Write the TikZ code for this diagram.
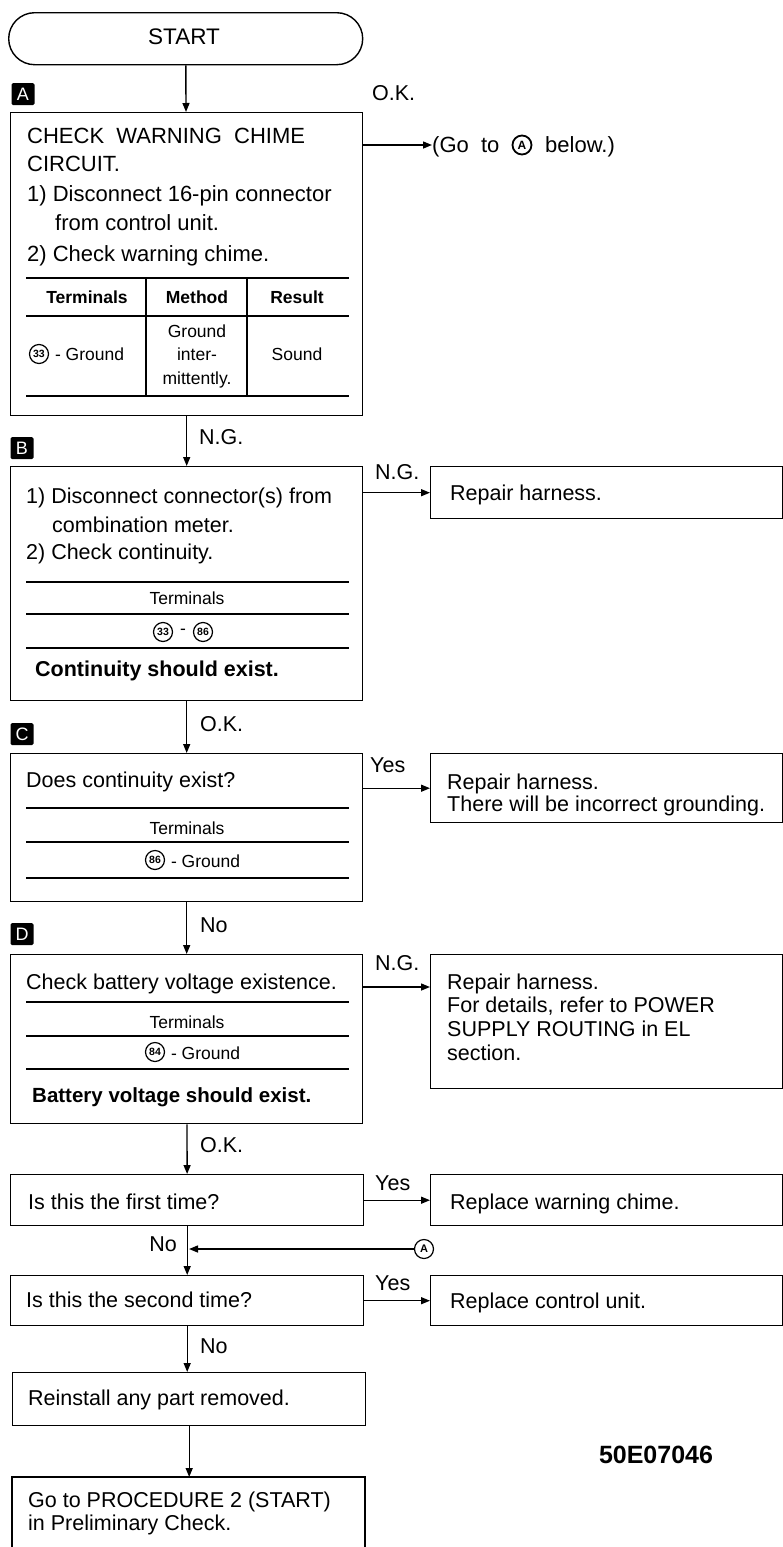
\documentclass[tikz,border=0pt]{standalone}
\usepackage{fontspec}
\setmainfont{Liberation Sans}
\usetikzlibrary{arrows.meta}
\newcommand\fmain{\fontsize{21.5}{24}\selectfont}
\newcommand\fbig{\fontsize{22}{25}\selectfont}
\newcommand\fsmall{\fontsize{17.5}{20}\selectfont}
\begin{document}
\begin{tikzpicture}[x=1pt,y=-1pt,
  box/.style={draw,line width=1.4pt,inner sep=0pt,anchor=north west},
  t/.style={anchor=base west,inner sep=0pt,font=\fmain},
  ta/.style={anchor=base west,inner sep=0pt,font=\fbig},
  tc/.style={anchor=base,inner sep=0pt,font=\fsmall},
  tb/.style={anchor=base west,inner sep=0pt,font=\fmain\bfseries},
  lab/.style={anchor=base west,inner sep=0pt,font=\fmain},
  tag/.style={fill=black,text=white,inner sep=0pt,minimum width=23pt,minimum height=22pt,rounded corners=1.5pt,font=\fontsize{18}{18}\selectfont},
  cn/.style={draw,circle,line width=1.2pt,inner sep=0pt,minimum size=19pt,font=\fontsize{10.5}{10.5}\selectfont\bfseries},
  thick rule/.style={line width=2.6pt},
  thin rule/.style={line width=1.3pt},
  arr/.style={line width=1.4pt,-{Triangle[length=9pt,width=7pt]}}]
\useasboundingbox (0,0) rectangle (783,1547);
% START
\node[draw,line width=1.4pt,rounded corners=26pt,minimum width=354pt,minimum height=52pt,anchor=north west,inner sep=0pt] (start) at (8,12) {};
\node[font=\fontsize{22.5}{22.5}\selectfont,inner sep=0pt] (startt) at (184,37) {START};
% A
\node[tag] (tA) at (23,94) {A};
\node[box,minimum width=352pt,minimum height=303pt] (A) at (10,112) {};
\draw[arr] (start) -- (A);
\node[ta] (a1) at (27,143) {CHECK\ \ WARNING\ \ CHIME};
\node[ta] (a2) at (27,171) {CIRCUIT.};
\node[ta] (a3) at (27,201) {1)\ Disconnect 16-pin connector};
\node[ta] (a4) at (55,230) {from control unit.};
\node[ta] (a5) at (27,261) {2)\ Check warning chime.};
\draw[thick rule] (26,278) -- (349,278);
\draw[thin rule] (26,316) -- (349,316);
\draw[thick rule] (26,396) -- (349,396);
\draw[thin rule] (146,278) -- (146,396);
\draw[thin rule] (247,278) -- (247,396);
\node[tc,font=\fsmall\bfseries] (ah1) at (87,303) {Terminals};
\node[tc,font=\fsmall\bfseries] (ah2) at (197,303) {Method};
\node[tc,font=\fsmall\bfseries] (ah3) at (297,303) {Result};
\node[cn] (ac1) at (39,354) {33};
\node[anchor=west,inner sep=0pt,font=\fsmall] (ac1t) at (50,354) {\ - Ground};
\node[tc] (am1) at (197,337) {Ground};
\node[tc] (am2) at (197,360) {inter-};
\node[tc] (am3) at (197,384) {mittently.};
\node[tc] (ar1) at (297,360) {Sound};
% O.K. go to A
\node[lab] (okA) at (372,100) {O.K.};
\node[anchor=base west,inner sep=0pt,font=\fbig] (goA1) at (432,152) {(Go\ \ to};
\node[draw,circle,line width=1.8pt,inner sep=0pt,minimum size=19pt,font=\fontsize{12}{12}\selectfont\bfseries] (goAc) at (522,145) {A};
\node[anchor=base west,inner sep=0pt,font=\fbig] (goA2) at (545,152) {below.)};
\coordinate (goAy) at (0,145);
\draw[arr] (A.east |- goAy) -- (goA1.west |- goAy);
% B
\node[tag] (tB) at (22,448) {B};
\node[box,minimum width=352pt,minimum height=234pt] (B) at (10,466) {};
\draw[arr] (A) -- (B);
\node[lab] (ngA) at (199,444) {N.G.};
\node[t] (b1) at (26,503) {1)\ Disconnect connector(s) from};
\node[t] (b2) at (52,532) {combination meter.};
\node[t] (b3) at (26,559) {2)\ Check continuity.};
\draw[thin rule] (26,582) -- (349,582);
\node[tc] (bh) at (187,604) {Terminals};
\draw[thin rule] (26,614) -- (349,614);
\node[cn] (bc1) at (163,632) {33};
\node[anchor=center,inner sep=0pt,font=\fsmall] (bcd) at (183,632) {-};
\node[cn] (bc2) at (203,632) {86};
\draw[thick rule] (26,648) -- (349,648);
\node[tb] (b4) at (35,676) {Continuity should exist.};
\node[box,minimum width=352pt,minimum height=52pt] (RB) at (430,466) {};
\node[t] (rb1) at (450,500) {Repair harness.};
\node[lab] (ngB) at (375,479) {N.G.};
\draw[arr] (B.east |- RB.west) -- (RB.west);
% C
\node[tag] (tC) at (22,734) {C};
\node[box,minimum width=352pt,minimum height=148pt] (C) at (10,753) {};
\draw[arr] (B) -- (C);
\node[lab] (okB) at (200,731) {O.K.};
\node[t] (c1) at (26,787) {Does continuity exist?};
\draw[thick rule] (26,808) -- (349,808);
\node[tc] (ch) at (187,834) {Terminals};
\draw[thin rule] (26,842) -- (349,842);
\node[cn] (cc1) at (155,860) {86};
\node[anchor=west,inner sep=0pt,font=\fsmall] (cc1t) at (166,861) {\ - Ground};
\draw[thick rule] (26,878) -- (349,878);
\node[box,minimum width=352pt,minimum height=69pt] (RC) at (430,753) {};
\node[t] (rc1) at (447,789) {Repair harness.};
\node[t] (rc2) at (447,811) {There will be incorrect grounding.};
\node[lab] (yesC) at (370,772) {Yes};
\draw[arr] (C.east |- RC.west) -- (RC.west);
% D
\node[tag] (tD) at (22,934) {D};
\node[box,minimum width=352pt,minimum height=169pt] (D) at (10,954) {};
\draw[arr] (C) -- (D);
\node[lab] (noC) at (200,932) {No};
\node[t] (d1) at (26,989) {Check battery voltage existence.};
\draw[thick rule] (26,1002) -- (349,1002);
\node[tc] (dh) at (187,1028) {Terminals};
\draw[thin rule] (26,1036) -- (349,1036);
\node[cn] (dc1) at (155,1052) {84};
\node[anchor=west,inner sep=0pt,font=\fsmall] (dc1t) at (166,1053) {\ - Ground};
\draw[thick rule] (26,1069) -- (349,1069);
\node[tb,font=\fontsize{20.5}{24}\selectfont\bfseries] (d2) at (32,1102) {Battery voltage should exist.};
\node[box,minimum width=352pt,minimum height=134pt] (RD) at (430,954) {};
\node[t] (rd1) at (447,989) {Repair harness.};
\node[t] (rd2) at (447,1012) {For details, refer to POWER};
\node[t] (rd3) at (447,1036) {SUPPLY ROUTING in EL};
\node[t] (rd4) at (447,1060) {section.};
\node[lab] (ngD) at (375,970) {N.G.};
\coordinate (dy) at (0,987);
\draw[arr] (D.east |- dy) -- (RD.west |- dy);
% E
\node[box,minimum width=353pt,minimum height=51pt] (E) at (10,1174) {};
\draw[arr] (D) -- (E);
\node[lab] (okD) at (200,1152) {O.K.};
\node[t] (e1) at (28,1209) {Is this the first time?};
\node[box,minimum width=352pt,minimum height=51pt] (RE) at (430,1174) {};
\node[t] (re1) at (450,1209) {Replace warning chime.};
\node[lab] (yesE) at (375,1190) {Yes};
\draw[arr] (E.east |- RE.west) -- (RE.west);
% F
\node[box,minimum width=353pt,minimum height=50pt] (F) at (10,1275) {};
\draw[arr] (E) -- (F);
\node[anchor=base east,inner sep=0pt,font=\fmain] (noE) at (177,1251) {No};
\node[draw,circle,line width=1.2pt,inner sep=0pt,minimum size=19pt,font=\fontsize{11}{11}\selectfont\bfseries] (cA) at (424,1249) {A};
\coordinate (ey) at (189,1249);
\draw[arr] (cA) -- (ey);
\node[t] (f1) at (26,1307) {Is this the second time?};
\node[box,minimum width=352pt,minimum height=50pt] (RF) at (430,1275) {};
\node[t] (rf1) at (450,1308) {Replace control unit.};
\node[lab] (yesF) at (375,1290) {Yes};
\draw[arr] (F.east |- RF.west) -- (RF.west);
% G
\node[box,minimum width=353pt,minimum height=53pt] (G) at (12,1372) {};
\draw[arr] (F.south) -- (F.south |- G.north);
\node[lab] (noF) at (200,1353) {No};
\node[t] (g1) at (28,1405) {Reinstall any part removed.};
% H
\coordinate (Htop) at (190,1477);
\draw[line width=1.4pt] (12,1549) -- (12,1477) -- (365,1477) -- (365,1549);
\draw[arr] (G.south) -- (G.south |- Htop);
\node[t] (h1) at (28,1507) {Go to PROCEDURE 2 (START)};
\node[t] (h2) at (28,1530) {in Preliminary Check.};
\node[font=\fontsize{25}{25}\selectfont\bfseries,inner sep=0pt] (code) at (656,1455) {50E07046};
\end{tikzpicture}
\end{document}
